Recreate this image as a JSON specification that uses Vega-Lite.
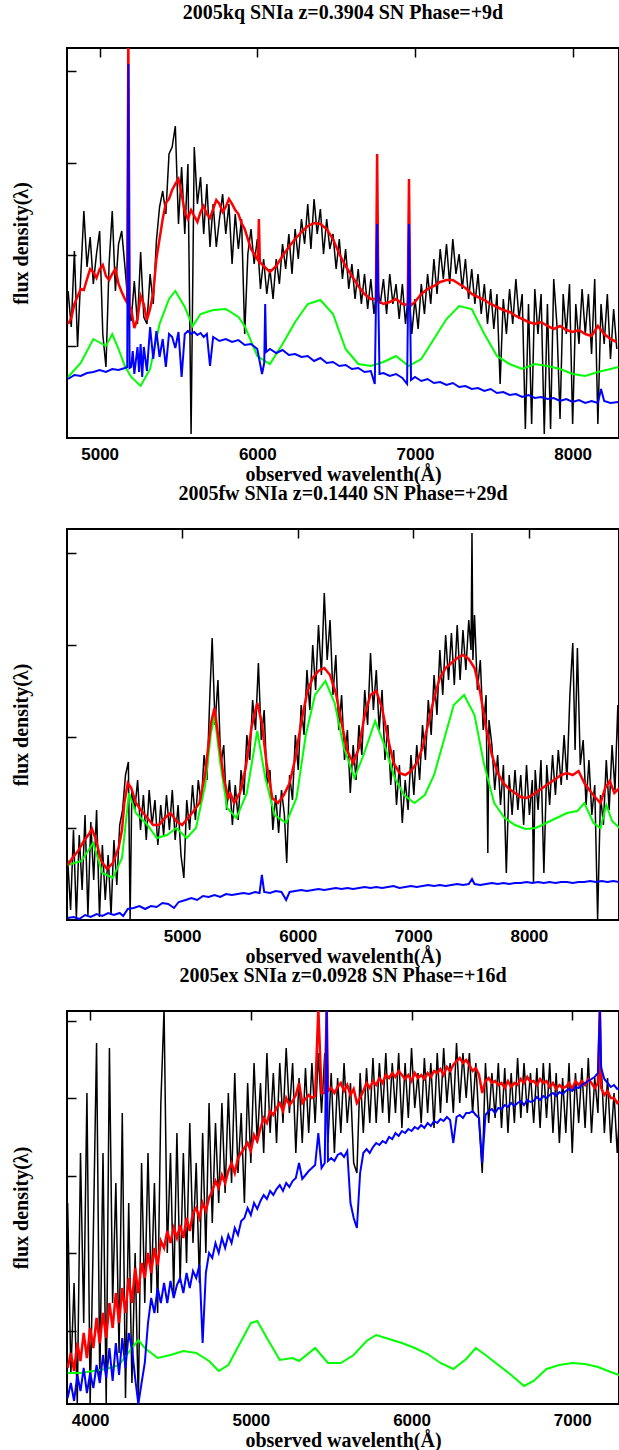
{
"$schema":"https://vega.github.io/schema/vega-lite/v6.json",
"background":"white",
"padding":{"left":10,"top":2,"right":0,"bottom":0},
"autosize":{"type":"pad"},
"spacing":91,
"bounds":"flush",
"config":{
"view":{"stroke":"black","strokeWidth":2},
"title":{"font":"Liberation Serif","fontSize":20,"fontWeight":"bold","color":"black","offset":25,"frame":"group","anchor":"middle"},
"axis":{"domain":false,"ticks":false,"tickSize":0,"grid":true,"gridColor":"black","gridOpacity":1,"gridWidth":1.5,"labels":false,"labelFont":"Liberation Sans","labelFontSize":17,"labelFontWeight":"bold","labelColor":"black","labelPadding":8,"labelFlush":false,"labelOverlap":false,"titleFont":"Liberation Serif","titleFontSize":20,"titleFontWeight":"bold","titleColor":"black"}
},
"datasets":{
"p1k":[{"w":4800,"f":14.7},{"w":4820,"f":11.1},{"w":4840,"f":18.7},{"w":4860,"f":9.1},{"w":4880,"f":16.1},{"w":4900,"f":22.7},{"w":4920,"f":17.1},{"w":4940,"f":20.1},{"w":4960,"f":15.4},{"w":4980,"f":18.4},{"w":5000,"f":20.7},{"w":5020,"f":10.4},{"w":5040,"f":7.1},{"w":5060,"f":17.4},{"w":5080,"f":22.7},{"w":5100,"f":14.7},{"w":5120,"f":19.4},{"w":5140,"f":20.7},{"w":5160,"f":17.2},{"w":5180,"f":13.4},{"w":5200,"f":11.7},{"w":5220,"f":15.7},{"w":5240,"f":11.4},{"w":5260,"f":18.6},{"w":5280,"f":12.1},{"w":5300,"f":11.4},{"w":5320,"f":16.4},{"w":5340,"f":13.4},{"w":5360,"f":19.7},{"w":5380,"f":23.1},{"w":5400,"f":24.7},{"w":5420,"f":22.4},{"w":5440,"f":28.4},{"w":5460,"f":29.1},{"w":5480,"f":31.2},{"w":5500,"f":21.4},{"w":5520,"f":27.1},{"w":5540,"f":20.4},{"w":5560,"f":27.4},{"w":5580,"f":0.4},{"w":5600,"f":29.1},{"w":5620,"f":23.4},{"w":5640,"f":26.1},{"w":5660,"f":20.4},{"w":5680,"f":25.4},{"w":5700,"f":19.1},{"w":5720,"f":23.4},{"w":5740,"f":19.1},{"w":5760,"f":21.9},{"w":5780,"f":24.4},{"w":5800,"f":20.4},{"w":5820,"f":23.4},{"w":5840,"f":17.4},{"w":5860,"f":22.4},{"w":5880,"f":18.9},{"w":5900,"f":21.9},{"w":5920,"f":10.4},{"w":5940,"f":18.4},{"w":5960,"f":20.9},{"w":5980,"f":17.4},{"w":6000,"f":19.9},{"w":6020,"f":14.9},{"w":6040,"f":17.9},{"w":6060,"f":14.4},{"w":6080,"f":16.9},{"w":6100,"f":13.9},{"w":6120,"f":17.9},{"w":6140,"f":15.4},{"w":6160,"f":19.4},{"w":6180,"f":16.9},{"w":6200,"f":20.4},{"w":6220,"f":16.4},{"w":6240,"f":20.9},{"w":6260,"f":17.9},{"w":6280,"f":21.9},{"w":6300,"f":19.4},{"w":6320,"f":23.4},{"w":6340,"f":18.9},{"w":6360,"f":23.9},{"w":6380,"f":20.4},{"w":6400,"f":22.9},{"w":6420,"f":18.4},{"w":6440,"f":21.9},{"w":6460,"f":18.9},{"w":6480,"f":20.4},{"w":6500,"f":16.9},{"w":6520,"f":19.9},{"w":6540,"f":15.9},{"w":6560,"f":18.9},{"w":6580,"f":14.9},{"w":6600,"f":17.4},{"w":6620,"f":13.9},{"w":6640,"f":16.9},{"w":6660,"f":13.4},{"w":6680,"f":16.4},{"w":6700,"f":12.9},{"w":6720,"f":15.9},{"w":6740,"f":12.4},{"w":6760,"f":15.4},{"w":6780,"f":13.4},{"w":6800,"f":15.9},{"w":6820,"f":12.4},{"w":6840,"f":16.4},{"w":6860,"f":13.4},{"w":6880,"f":15.4},{"w":6900,"f":11.9},{"w":6920,"f":15.4},{"w":6940,"f":11.4},{"w":6960,"f":14.9},{"w":6980,"f":10.4},{"w":7000,"f":13.9},{"w":7020,"f":10.9},{"w":7040,"f":15.4},{"w":7060,"f":12.4},{"w":7080,"f":16.4},{"w":7100,"f":13.4},{"w":7120,"f":17.9},{"w":7140,"f":14.4},{"w":7160,"f":18.9},{"w":7180,"f":15.9},{"w":7200,"f":19.4},{"w":7220,"f":15.4},{"w":7240,"f":19.9},{"w":7260,"f":16.4},{"w":7280,"f":18.4},{"w":7300,"f":14.9},{"w":7320,"f":17.9},{"w":7340,"f":13.9},{"w":7360,"f":16.9},{"w":7380,"f":13.4},{"w":7400,"f":16.4},{"w":7420,"f":12.4},{"w":7440,"f":15.4},{"w":7460,"f":11.4},{"w":7480,"f":14.9},{"w":7500,"f":10.9},{"w":7520,"f":14.4},{"w":7540,"f":5.4},{"w":7560,"f":13.9},{"w":7580,"f":10.4},{"w":7600,"f":14.9},{"w":7620,"f":11.4},{"w":7640,"f":15.9},{"w":7660,"f":11.9},{"w":7680,"f":14.4},{"w":7700,"f":0.9},{"w":7720,"f":13.4},{"w":7740,"f":1.4},{"w":7760,"f":14.9},{"w":7780,"f":10.4},{"w":7800,"f":14.4},{"w":7820,"f":0.4},{"w":7840,"f":13.4},{"w":7860,"f":0.9},{"w":7880,"f":15.9},{"w":7900,"f":11.4},{"w":7920,"f":1.9},{"w":7940,"f":14.4},{"w":7960,"f":10.4},{"w":7980,"f":15.4},{"w":8000,"f":1.4},{"w":8020,"f":13.4},{"w":8040,"f":9.4},{"w":8060,"f":14.9},{"w":8080,"f":10.4},{"w":8100,"f":14.4},{"w":8120,"f":8.4},{"w":8140,"f":15.9},{"w":8160,"f":1.4},{"w":8180,"f":13.4},{"w":8200,"f":9.4},{"w":8220,"f":14.4},{"w":8240,"f":7.9},{"w":8260,"f":12.9},{"w":8280,"f":8.9}],
"p1r":[{"w":4800,"f":11.4},{"w":4820,"f":12.0},{"w":4840,"f":13.4},{"w":4880,"f":14.9},{"w":4900,"f":14.8},{"w":4920,"f":15.9},{"w":4940,"f":16.9},{"w":4960,"f":16.6},{"w":4980,"f":16.0},{"w":5000,"f":16.9},{"w":5020,"f":17.3},{"w":5040,"f":16.2},{"w":5060,"f":15.8},{"w":5080,"f":16.4},{"w":5100,"f":16.9},{"w":5120,"f":15.4},{"w":5140,"f":14.6},{"w":5160,"f":13.9},{"w":5175,"f":13.5},{"w":5182,"f":40},{"w":5190,"f":13.2},{"w":5200,"f":12.9},{"w":5220,"f":11.0},{"w":5240,"f":11.9},{"w":5260,"f":14.2},{"w":5280,"f":13.4},{"w":5300,"f":11.8},{"w":5320,"f":12.9},{"w":5340,"f":14.5},{"w":5360,"f":17.9},{"w":5400,"f":21.9},{"w":5420,"f":23.5},{"w":5440,"f":23.9},{"w":5460,"f":24.8},{"w":5480,"f":25.4},{"w":5500,"f":25.9},{"w":5520,"f":24.4},{"w":5540,"f":22.6},{"w":5560,"f":21.9},{"w":5580,"f":22.8},{"w":5600,"f":22.2},{"w":5620,"f":21.6},{"w":5640,"f":22.6},{"w":5660,"f":23.2},{"w":5680,"f":22.4},{"w":5700,"f":22.0},{"w":5720,"f":22.9},{"w":5740,"f":23.8},{"w":5760,"f":23.4},{"w":5780,"f":22.6},{"w":5800,"f":23.1},{"w":5820,"f":23.9},{"w":5840,"f":23.4},{"w":5860,"f":22.8},{"w":5880,"f":22.4},{"w":5900,"f":21.5},{"w":5920,"f":20.9},{"w":5960,"f":18.9},{"w":6000,"f":17.9},{"w":6004,"f":17.8},{"w":6010,"f":21.9},{"w":6016,"f":17.6},{"w":6040,"f":17.2},{"w":6080,"f":16.6},{"w":6120,"f":17.2},{"w":6160,"f":18.2},{"w":6200,"f":19.1},{"w":6240,"f":19.9},{"w":6280,"f":20.6},{"w":6320,"f":21.2},{"w":6360,"f":21.5},{"w":6400,"f":21.4},{"w":6440,"f":20.9},{"w":6480,"f":19.9},{"w":6520,"f":18.4},{"w":6560,"f":17.2},{"w":6600,"f":16.2},{"w":6640,"f":15.2},{"w":6680,"f":14.4},{"w":6720,"f":13.9},{"w":6752,"f":13.9},{"w":6760,"f":28.4},{"w":6768,"f":13.7},{"w":6800,"f":13.4},{"w":6840,"f":13.6},{"w":6880,"f":13.9},{"w":6920,"f":13.4},{"w":6954,"f":13.3},{"w":6962,"f":25.9},{"w":6970,"f":13.2},{"w":7000,"f":13.6},{"w":7040,"f":14.4},{"w":7080,"f":14.9},{"w":7120,"f":15.2},{"w":7160,"f":15.6},{"w":7200,"f":15.8},{"w":7240,"f":15.8},{"w":7280,"f":15.4},{"w":7320,"f":15.0},{"w":7360,"f":14.4},{"w":7400,"f":14.1},{"w":7440,"f":13.8},{"w":7480,"f":13.4},{"w":7520,"f":13.1},{"w":7560,"f":12.8},{"w":7600,"f":12.6},{"w":7640,"f":12.2},{"w":7680,"f":11.9},{"w":7720,"f":11.6},{"w":7760,"f":11.4},{"w":7800,"f":11.6},{"w":7840,"f":11.2},{"w":7880,"f":10.9},{"w":7920,"f":11.2},{"w":7960,"f":10.8},{"w":8000,"f":10.6},{"w":8040,"f":10.8},{"w":8080,"f":10.4},{"w":8120,"f":10.2},{"w":8160,"f":11.2},{"w":8200,"f":10.4},{"w":8240,"f":9.9},{"w":8280,"f":9.6}],
"p1g":[{"w":4800,"f":6.1},{"w":4880,"f":7.5},{"w":4960,"f":9.9},{"w":5040,"f":9.2},{"w":5080,"f":10.4},{"w":5120,"f":8.9},{"w":5160,"f":7.2},{"w":5200,"f":6.1},{"w":5260,"f":5.2},{"w":5320,"f":6.9},{"w":5380,"f":11.4},{"w":5440,"f":13.9},{"w":5480,"f":14.7},{"w":5540,"f":13.1},{"w":5590,"f":11.2},{"w":5640,"f":12.4},{"w":5720,"f":12.8},{"w":5800,"f":12.9},{"w":5880,"f":12.1},{"w":5920,"f":11.2},{"w":6000,"f":8.2},{"w":6080,"f":7.4},{"w":6160,"f":9.4},{"w":6240,"f":11.6},{"w":6320,"f":13.4},{"w":6400,"f":13.8},{"w":6480,"f":12.4},{"w":6560,"f":8.9},{"w":6640,"f":7.4},{"w":6720,"f":7.2},{"w":6800,"f":7.6},{"w":6880,"f":8.2},{"w":6960,"f":7.2},{"w":7040,"f":7.9},{"w":7120,"f":9.9},{"w":7200,"f":11.9},{"w":7280,"f":13.2},{"w":7360,"f":12.9},{"w":7440,"f":10.4},{"w":7520,"f":8.2},{"w":7600,"f":7.4},{"w":7680,"f":6.9},{"w":7760,"f":7.4},{"w":7840,"f":7.2},{"w":7920,"f":6.9},{"w":8000,"f":6.4},{"w":8080,"f":6.2},{"w":8160,"f":6.6},{"w":8240,"f":6.9},{"w":8290,"f":7.1}],
"p1b":[{"w":4800,"f":5.9},{"w":4840,"f":6.3},{"w":4880,"f":6.2},{"w":4920,"f":6.5},{"w":4960,"f":6.6},{"w":5000,"f":6.8},{"w":5040,"f":6.6},{"w":5080,"f":6.9},{"w":5120,"f":6.8},{"w":5160,"f":7.0},{"w":5175,"f":7.1},{"w":5182,"f":37.4},{"w":5190,"f":7.0},{"w":5200,"f":7.1},{"w":5210,"f":8.7},{"w":5220,"f":6.4},{"w":5240,"f":9.1},{"w":5250,"f":6.6},{"w":5260,"f":9.4},{"w":5270,"f":6.1},{"w":5280,"f":9.1},{"w":5300,"f":6.7},{"w":5320,"f":11.1},{"w":5340,"f":7.9},{"w":5360,"f":10.7},{"w":5380,"f":8.1},{"w":5400,"f":9.9},{"w":5420,"f":7.1},{"w":5440,"f":10.4},{"w":5460,"f":10.1},{"w":5480,"f":9.0},{"w":5500,"f":10.6},{"w":5520,"f":6.1},{"w":5540,"f":10.4},{"w":5560,"f":10.7},{"w":5580,"f":10.4},{"w":5600,"f":10.6},{"w":5620,"f":10.3},{"w":5640,"f":10.5},{"w":5660,"f":10.1},{"w":5680,"f":10.4},{"w":5700,"f":7.2},{"w":5720,"f":10.1},{"w":5760,"f":9.7},{"w":5800,"f":9.9},{"w":5840,"f":9.6},{"w":5880,"f":9.8},{"w":5920,"f":9.3},{"w":5960,"f":9.4},{"w":6000,"f":8.9},{"w":6030,"f":6.4},{"w":6044,"f":7.5},{"w":6050,"f":13.4},{"w":6056,"f":8.6},{"w":6080,"f":8.9},{"w":6120,"f":8.5},{"w":6160,"f":8.8},{"w":6200,"f":8.3},{"w":6240,"f":8.4},{"w":6280,"f":8.1},{"w":6320,"f":8.2},{"w":6360,"f":7.7},{"w":6400,"f":8.0},{"w":6440,"f":7.5},{"w":6480,"f":7.6},{"w":6520,"f":7.2},{"w":6560,"f":7.3},{"w":6600,"f":6.9},{"w":6640,"f":7.0},{"w":6680,"f":6.6},{"w":6720,"f":6.7},{"w":6745,"f":5.4},{"w":6760,"f":21.4},{"w":6775,"f":6.4},{"w":6800,"f":6.5},{"w":6840,"f":6.2},{"w":6880,"f":6.4},{"w":6920,"f":6.0},{"w":6950,"f":5.4},{"w":6962,"f":21.4},{"w":6975,"f":5.8},{"w":7000,"f":6.1},{"w":7040,"f":5.7},{"w":7080,"f":5.9},{"w":7120,"f":5.5},{"w":7160,"f":5.6},{"w":7200,"f":5.3},{"w":7240,"f":5.5},{"w":7280,"f":5.1},{"w":7320,"f":5.2},{"w":7360,"f":4.9},{"w":7400,"f":5.0},{"w":7440,"f":4.7},{"w":7480,"f":4.9},{"w":7520,"f":4.5},{"w":7560,"f":4.6},{"w":7600,"f":4.3},{"w":7640,"f":4.4},{"w":7680,"f":4.1},{"w":7720,"f":4.3},{"w":7760,"f":4.0},{"w":7800,"f":4.1},{"w":7840,"f":3.9},{"w":7880,"f":4.0},{"w":7920,"f":3.7},{"w":7960,"f":3.9},{"w":8000,"f":3.6},{"w":8040,"f":3.8},{"w":8080,"f":3.5},{"w":8120,"f":3.7},{"w":8160,"f":3.5},{"w":8180,"f":4.9},{"w":8200,"f":3.7},{"w":8240,"f":3.5},{"w":8290,"f":3.6}],
"p2k":[{"w":4010,"f":6.0},{"w":4035,"f":1.0},{"w":4060,"f":9.0},{"w":4085,"f":0.2},{"w":4110,"f":8.5},{"w":4135,"f":3.0},{"w":4160,"f":10.5},{"w":4185,"f":0.5},{"w":4210,"f":9.8},{"w":4235,"f":4.0},{"w":4260,"f":11.0},{"w":4285,"f":0.3},{"w":4310,"f":7.5},{"w":4335,"f":2.0},{"w":4360,"f":6.5},{"w":4385,"f":0.5},{"w":4410,"f":8.0},{"w":4435,"f":3.5},{"w":4460,"f":9.5},{"w":4485,"f":11.0},{"w":4510,"f":14.5},{"w":4535,"f":15.8},{"w":4550,"f":0.1},{"w":4565,"f":13.0},{"w":4590,"f":11.0},{"w":4615,"f":14.0},{"w":4640,"f":9.0},{"w":4665,"f":12.5},{"w":4690,"f":8.0},{"w":4715,"f":13.0},{"w":4740,"f":9.5},{"w":4765,"f":12.0},{"w":4790,"f":7.5},{"w":4815,"f":11.5},{"w":4840,"f":8.5},{"w":4865,"f":12.5},{"w":4890,"f":9.0},{"w":4915,"f":13.0},{"w":4940,"f":8.0},{"w":4965,"f":11.5},{"w":4990,"f":6.5},{"w":5015,"f":4.2},{"w":5040,"f":12.0},{"w":5065,"f":9.0},{"w":5090,"f":13.5},{"w":5115,"f":10.0},{"w":5140,"f":14.0},{"w":5165,"f":11.5},{"w":5190,"f":16.5},{"w":5215,"f":14.0},{"w":5240,"f":22.5},{"w":5260,"f":28.2},{"w":5285,"f":19.5},{"w":5310,"f":24.0},{"w":5335,"f":15.5},{"w":5360,"f":17.5},{"w":5385,"f":11.0},{"w":5410,"f":14.0},{"w":5435,"f":9.5},{"w":5460,"f":13.5},{"w":5485,"f":10.0},{"w":5510,"f":15.0},{"w":5535,"f":12.5},{"w":5560,"f":18.5},{"w":5585,"f":16.0},{"w":5610,"f":22.0},{"w":5635,"f":19.0},{"w":5660,"f":25.7},{"w":5685,"f":18.0},{"w":5710,"f":21.0},{"w":5735,"f":13.5},{"w":5760,"f":15.0},{"w":5785,"f":9.0},{"w":5810,"f":12.5},{"w":5835,"f":8.7},{"w":5860,"f":13.0},{"w":5885,"f":10.5},{"w":5905,"f":5.7},{"w":5930,"f":14.5},{"w":5955,"f":12.0},{"w":5980,"f":18.5},{"w":6005,"f":15.0},{"w":6030,"f":21.5},{"w":6055,"f":18.5},{"w":6080,"f":25.0},{"w":6105,"f":21.0},{"w":6130,"f":27.5},{"w":6155,"f":23.0},{"w":6180,"f":29.5},{"w":6205,"f":24.5},{"w":6230,"f":32.7},{"w":6255,"f":26.0},{"w":6280,"f":30.0},{"w":6305,"f":22.5},{"w":6330,"f":26.5},{"w":6355,"f":19.0},{"w":6380,"f":22.5},{"w":6405,"f":16.0},{"w":6430,"f":19.0},{"w":6455,"f":12.7},{"w":6480,"f":17.5},{"w":6505,"f":14.0},{"w":6530,"f":19.5},{"w":6555,"f":16.5},{"w":6580,"f":23.0},{"w":6605,"f":19.5},{"w":6630,"f":26.7},{"w":6655,"f":21.0},{"w":6680,"f":25.0},{"w":6705,"f":19.0},{"w":6730,"f":23.0},{"w":6755,"f":16.0},{"w":6780,"f":19.5},{"w":6805,"f":13.5},{"w":6830,"f":17.0},{"w":6855,"f":11.5},{"w":6880,"f":15.5},{"w":6905,"f":9.7},{"w":6930,"f":14.0},{"w":6955,"f":11.0},{"w":6980,"f":16.5},{"w":7005,"f":12.5},{"w":7030,"f":17.5},{"w":7055,"f":14.0},{"w":7080,"f":19.5},{"w":7105,"f":16.0},{"w":7130,"f":22.0},{"w":7155,"f":18.5},{"w":7180,"f":24.5},{"w":7205,"f":20.5},{"w":7230,"f":27.0},{"w":7255,"f":22.5},{"w":7280,"f":28.5},{"w":7305,"f":24.0},{"w":7330,"f":28.7},{"w":7355,"f":23.5},{"w":7380,"f":29.5},{"w":7405,"f":24.0},{"w":7430,"f":29.0},{"w":7455,"f":25.0},{"w":7480,"f":30.0},{"w":7500,"f":27.0},{"w":7508,"f":38.7},{"w":7516,"f":26.0},{"w":7530,"f":30.5},{"w":7555,"f":23.0},{"w":7580,"f":26.0},{"w":7605,"f":19.0},{"w":7630,"f":22.5},{"w":7645,"f":6.7},{"w":7655,"f":20.0},{"w":7680,"f":17.5},{"w":7705,"f":13.0},{"w":7730,"f":16.5},{"w":7755,"f":11.5},{"w":7780,"f":15.5},{"w":7805,"f":4.7},{"w":7830,"f":14.5},{"w":7855,"f":10.5},{"w":7880,"f":15.0},{"w":7905,"f":11.0},{"w":7930,"f":14.5},{"w":7955,"f":9.5},{"w":7980,"f":15.5},{"w":8005,"f":10.5},{"w":8030,"f":14.0},{"w":8040,"f":3.7},{"w":8055,"f":15.0},{"w":8080,"f":11.0},{"w":8105,"f":16.0},{"w":8130,"f":4.7},{"w":8155,"f":15.5},{"w":8180,"f":11.5},{"w":8205,"f":16.5},{"w":8230,"f":12.5},{"w":8255,"f":17.0},{"w":8280,"f":13.5},{"w":8305,"f":18.5},{"w":8330,"f":14.0},{"w":8355,"f":22.5},{"w":8380,"f":27.7},{"w":8400,"f":17.0},{"w":8420,"f":27.2},{"w":8445,"f":15.5},{"w":8470,"f":18.0},{"w":8495,"f":11.5},{"w":8520,"f":16.0},{"w":8545,"f":10.5},{"w":8570,"f":13.5},{"w":8595,"f":0.1},{"w":8620,"f":12.5},{"w":8645,"f":9.5},{"w":8670,"f":16.0},{"w":8695,"f":11.0},{"w":8720,"f":17.5},{"w":8745,"f":13.0},{"w":8770,"f":21.5},{"w":8785,"f":14.0}],
"p2r":[{"w":4010,"f":5.5},{"w":4050,"f":6.2},{"w":4100,"f":6.9},{"w":4150,"f":7.9},{"w":4200,"f":8.7},{"w":4220,"f":9.1},{"w":4250,"f":8.2},{"w":4300,"f":5.9},{"w":4350,"f":5.1},{"w":4400,"f":5.7},{"w":4450,"f":7.2},{"w":4480,"f":9.0},{"w":4500,"f":11.7},{"w":4530,"f":13.7},{"w":4560,"f":13.2},{"w":4600,"f":11.7},{"w":4650,"f":10.9},{"w":4700,"f":10.2},{"w":4750,"f":9.5},{"w":4800,"f":9.5},{"w":4850,"f":10.2},{"w":4900,"f":10.7},{"w":4950,"f":9.9},{"w":5000,"f":9.5},{"w":5050,"f":10.2},{"w":5100,"f":10.9},{"w":5150,"f":11.7},{"w":5200,"f":14.7},{"w":5250,"f":19.7},{"w":5280,"f":21.2},{"w":5320,"f":17.7},{"w":5360,"f":14.2},{"w":5400,"f":12.2},{"w":5420,"f":12.6},{"w":5450,"f":11.7},{"w":5500,"f":12.7},{"w":5550,"f":15.2},{"w":5600,"f":19.2},{"w":5650,"f":21.7},{"w":5690,"f":19.7},{"w":5730,"f":15.7},{"w":5780,"f":12.2},{"w":5830,"f":11.7},{"w":5880,"f":12.5},{"w":5930,"f":13.7},{"w":5980,"f":16.2},{"w":6030,"f":19.7},{"w":6080,"f":22.7},{"w":6130,"f":24.2},{"w":6180,"f":24.9},{"w":6230,"f":25.2},{"w":6280,"f":24.5},{"w":6330,"f":22.7},{"w":6380,"f":19.7},{"w":6430,"f":16.9},{"w":6480,"f":15.7},{"w":6530,"f":17.2},{"w":6580,"f":20.5},{"w":6630,"f":22.5},{"w":6680,"f":22.9},{"w":6730,"f":21.2},{"w":6780,"f":18.2},{"w":6830,"f":15.7},{"w":6880,"f":14.7},{"w":6930,"f":14.5},{"w":6980,"f":14.9},{"w":7030,"f":15.7},{"w":7080,"f":17.2},{"w":7130,"f":19.7},{"w":7180,"f":22.2},{"w":7230,"f":24.2},{"w":7280,"f":25.2},{"w":7330,"f":25.7},{"w":7380,"f":26.2},{"w":7430,"f":26.5},{"w":7480,"f":26.1},{"w":7530,"f":25.2},{"w":7580,"f":22.7},{"w":7630,"f":19.2},{"w":7680,"f":16.5},{"w":7730,"f":14.7},{"w":7780,"f":13.7},{"w":7830,"f":13.1},{"w":7880,"f":12.7},{"w":7930,"f":12.3},{"w":7980,"f":12.2},{"w":8030,"f":12.5},{"w":8080,"f":12.9},{"w":8130,"f":13.3},{"w":8180,"f":13.7},{"w":8230,"f":14.1},{"w":8280,"f":14.5},{"w":8330,"f":14.7},{"w":8380,"f":14.5},{"w":8430,"f":14.9},{"w":8480,"f":13.7},{"w":8530,"f":12.9},{"w":8580,"f":12.2},{"w":8620,"f":11.7},{"w":8660,"f":13.2},{"w":8700,"f":13.9},{"w":8740,"f":12.7},{"w":8785,"f":13.2}],
"p2g":[{"w":4010,"f":5.5},{"w":4130,"f":5.9},{"w":4230,"f":7.7},{"w":4310,"f":4.7},{"w":4400,"f":4.2},{"w":4480,"f":6.2},{"w":4540,"f":12.7},{"w":4600,"f":10.7},{"w":4700,"f":9.5},{"w":4780,"f":8.2},{"w":4870,"f":8.5},{"w":4950,"f":9.2},{"w":5040,"f":8.2},{"w":5120,"f":9.2},{"w":5200,"f":13.5},{"w":5250,"f":18.7},{"w":5280,"f":20.5},{"w":5330,"f":15.7},{"w":5390,"f":11.2},{"w":5470,"f":10.2},{"w":5560,"f":12.7},{"w":5650,"f":18.9},{"w":5720,"f":14.2},{"w":5800,"f":10.5},{"w":5900,"f":9.7},{"w":5990,"f":12.2},{"w":6070,"f":18.5},{"w":6150,"f":22.5},{"w":6240,"f":23.9},{"w":6320,"f":21.7},{"w":6400,"f":17.2},{"w":6490,"f":14.2},{"w":6570,"f":16.5},{"w":6670,"f":19.9},{"w":6750,"f":17.5},{"w":6840,"f":14.2},{"w":6920,"f":12.5},{"w":7010,"f":11.7},{"w":7100,"f":12.5},{"w":7180,"f":14.5},{"w":7270,"f":18.2},{"w":7350,"f":21.5},{"w":7440,"f":22.5},{"w":7530,"f":20.5},{"w":7610,"f":15.7},{"w":7700,"f":11.7},{"w":7790,"f":10.2},{"w":7880,"f":9.5},{"w":7970,"f":9.1},{"w":8060,"f":9.2},{"w":8150,"f":9.7},{"w":8240,"f":10.2},{"w":8330,"f":10.7},{"w":8420,"f":10.9},{"w":8480,"f":11.7},{"w":8560,"f":9.7},{"w":8620,"f":9.2},{"w":8670,"f":11.5},{"w":8720,"f":9.9},{"w":8785,"f":9.2}],
"p2b":[{"w":4010,"f":0.2},{"w":4060,"f":0.3},{"w":4110,"f":0.1},{"w":4160,"f":0.5},{"w":4210,"f":0.3},{"w":4260,"f":0.6},{"w":4310,"f":0.4},{"w":4360,"f":0.7},{"w":4410,"f":0.5},{"w":4460,"f":0.7},{"w":4490,"f":0.4},{"w":4530,"f":1.1},{"w":4580,"f":1.2},{"w":4630,"f":1.4},{"w":4680,"f":1.1},{"w":4730,"f":1.4},{"w":4780,"f":1.3},{"w":4830,"f":1.7},{"w":4880,"f":1.6},{"w":4930,"f":1.2},{"w":4970,"f":1.8},{"w":5030,"f":2.0},{"w":5080,"f":2.2},{"w":5130,"f":2.0},{"w":5180,"f":2.4},{"w":5230,"f":2.3},{"w":5280,"f":2.5},{"w":5330,"f":2.3},{"w":5380,"f":2.6},{"w":5430,"f":2.5},{"w":5480,"f":2.6},{"w":5530,"f":2.7},{"w":5580,"f":2.6},{"w":5630,"f":2.8},{"w":5670,"f":2.7},{"w":5690,"f":4.5},{"w":5710,"f":2.8},{"w":5760,"f":2.7},{"w":5810,"f":2.9},{"w":5860,"f":2.8},{"w":5900,"f":2.0},{"w":5930,"f":2.8},{"w":5980,"f":2.9},{"w":6030,"f":3.0},{"w":6080,"f":2.9},{"w":6130,"f":3.0},{"w":6180,"f":3.1},{"w":6230,"f":3.0},{"w":6280,"f":3.1},{"w":6330,"f":3.2},{"w":6380,"f":3.1},{"w":6430,"f":3.2},{"w":6480,"f":3.1},{"w":6530,"f":3.2},{"w":6580,"f":3.3},{"w":6630,"f":3.2},{"w":6680,"f":3.3},{"w":6730,"f":3.2},{"w":6780,"f":3.3},{"w":6830,"f":3.4},{"w":6880,"f":3.2},{"w":6930,"f":3.3},{"w":6980,"f":3.4},{"w":7030,"f":3.3},{"w":7080,"f":3.4},{"w":7130,"f":3.5},{"w":7180,"f":3.4},{"w":7230,"f":3.5},{"w":7280,"f":3.4},{"w":7330,"f":3.5},{"w":7380,"f":3.6},{"w":7430,"f":3.5},{"w":7480,"f":3.6},{"w":7508,"f":4.1},{"w":7530,"f":3.6},{"w":7580,"f":3.5},{"w":7630,"f":3.6},{"w":7680,"f":3.7},{"w":7730,"f":3.6},{"w":7780,"f":3.7},{"w":7830,"f":3.6},{"w":7880,"f":3.7},{"w":7930,"f":3.7},{"w":7980,"f":3.8},{"w":8030,"f":3.7},{"w":8080,"f":3.8},{"w":8130,"f":3.7},{"w":8180,"f":3.8},{"w":8230,"f":3.7},{"w":8280,"f":3.8},{"w":8330,"f":3.8},{"w":8380,"f":3.7},{"w":8430,"f":3.8},{"w":8480,"f":3.8},{"w":8530,"f":3.9},{"w":8580,"f":3.8},{"w":8630,"f":3.9},{"w":8680,"f":3.8},{"w":8730,"f":3.9},{"w":8785,"f":3.8}],
"p3k":[{"w":3860,"f":20.1},{"w":3880,"f":3.1},{"w":3900,"f":12.1},{"w":3920,"f":0.0},{"w":3940,"f":25.1},{"w":3960,"f":8.1},{"w":3980,"f":31.1},{"w":4000,"f":0.0},{"w":4020,"f":17.1},{"w":4040,"f":36.1},{"w":4060,"f":2.1},{"w":4080,"f":25.1},{"w":4100,"f":0.0},{"w":4120,"f":35.6},{"w":4140,"f":10.1},{"w":4160,"f":22.1},{"w":4180,"f":5.1},{"w":4200,"f":29.1},{"w":4220,"f":0.6},{"w":4240,"f":20.1},{"w":4260,"f":2.1},{"w":4280,"f":15.1},{"w":4300,"f":0.0},{"w":4320,"f":24.1},{"w":4340,"f":10.1},{"w":4360,"f":25.1},{"w":4380,"f":11.1},{"w":4400,"f":22.1},{"w":4420,"f":9.1},{"w":4440,"f":30.1},{"w":4460,"f":39.5},{"w":4480,"f":15.1},{"w":4500,"f":25.1},{"w":4520,"f":11.1},{"w":4540,"f":27.1},{"w":4560,"f":12.1},{"w":4580,"f":25.1},{"w":4600,"f":14.1},{"w":4620,"f":28.1},{"w":4640,"f":16.1},{"w":4660,"f":24.1},{"w":4680,"f":12.1},{"w":4700,"f":27.1},{"w":4720,"f":15.1},{"w":4740,"f":30.1},{"w":4760,"f":18.1},{"w":4780,"f":28.1},{"w":4800,"f":20.1},{"w":4820,"f":30.1},{"w":4840,"f":21.1},{"w":4860,"f":31.1},{"w":4880,"f":22.1},{"w":4900,"f":33.1},{"w":4920,"f":23.1},{"w":4940,"f":29.1},{"w":4960,"f":20.1},{"w":4980,"f":32.1},{"w":5000,"f":24.1},{"w":5020,"f":34.1},{"w":5040,"f":26.1},{"w":5060,"f":32.1},{"w":5080,"f":25.1},{"w":5100,"f":35.1},{"w":5120,"f":27.1},{"w":5140,"f":33.1},{"w":5160,"f":26.1},{"w":5180,"f":34.1},{"w":5200,"f":28.1},{"w":5220,"f":35.6},{"w":5240,"f":29.1},{"w":5260,"f":34.1},{"w":5280,"f":25.1},{"w":5300,"f":32.6},{"w":5320,"f":26.1},{"w":5340,"f":33.6},{"w":5360,"f":27.1},{"w":5380,"f":34.1},{"w":5400,"f":28.1},{"w":5420,"f":35.1},{"w":5440,"f":29.1},{"w":5460,"f":35.1},{"w":5480,"f":26.1},{"w":5500,"f":33.1},{"w":5520,"f":25.1},{"w":5540,"f":32.6},{"w":5560,"f":27.1},{"w":5580,"f":34.1},{"w":5600,"f":28.1},{"w":5620,"f":32.1},{"w":5640,"f":24.1},{"w":5660,"f":23.1},{"w":5680,"f":33.1},{"w":5700,"f":27.1},{"w":5720,"f":33.6},{"w":5740,"f":28.1},{"w":5760,"f":34.6},{"w":5780,"f":28.1},{"w":5800,"f":34.1},{"w":5820,"f":29.1},{"w":5840,"f":35.1},{"w":5860,"f":28.1},{"w":5880,"f":34.1},{"w":5900,"f":29.1},{"w":5920,"f":35.1},{"w":5940,"f":27.6},{"w":5960,"f":34.1},{"w":5980,"f":28.6},{"w":6000,"f":35.6},{"w":6020,"f":29.6},{"w":6040,"f":33.1},{"w":6060,"f":28.1},{"w":6080,"f":34.6},{"w":6100,"f":29.1},{"w":6120,"f":34.1},{"w":6140,"f":27.6},{"w":6160,"f":35.1},{"w":6180,"f":29.1},{"w":6200,"f":35.6},{"w":6220,"f":30.1},{"w":6240,"f":34.1},{"w":6260,"f":29.1},{"w":6280,"f":36.1},{"w":6300,"f":30.1},{"w":6320,"f":35.1},{"w":6340,"f":30.6},{"w":6360,"f":35.1},{"w":6380,"f":29.1},{"w":6400,"f":34.1},{"w":6420,"f":28.1},{"w":6440,"f":23.1},{"w":6460,"f":34.1},{"w":6480,"f":28.1},{"w":6500,"f":33.1},{"w":6520,"f":28.6},{"w":6540,"f":34.1},{"w":6560,"f":27.6},{"w":6580,"f":33.6},{"w":6600,"f":27.1},{"w":6620,"f":33.1},{"w":6640,"f":28.1},{"w":6660,"f":34.6},{"w":6680,"f":28.6},{"w":6700,"f":34.1},{"w":6720,"f":29.1},{"w":6740,"f":33.1},{"w":6760,"f":28.1},{"w":6780,"f":33.6},{"w":6800,"f":27.6},{"w":6820,"f":34.1},{"w":6840,"f":28.6},{"w":6860,"f":34.1},{"w":6880,"f":27.1},{"w":6900,"f":33.1},{"w":6920,"f":26.1},{"w":6940,"f":32.6},{"w":6960,"f":27.1},{"w":6980,"f":34.1},{"w":7000,"f":25.1},{"w":7020,"f":33.1},{"w":7040,"f":28.1},{"w":7060,"f":33.6},{"w":7080,"f":27.6},{"w":7100,"f":34.6},{"w":7120,"f":27.1},{"w":7140,"f":32.6},{"w":7160,"f":29.1},{"w":7172,"f":36.1},{"w":7180,"f":34.1},{"w":7200,"f":27.1},{"w":7220,"f":32.6},{"w":7240,"f":26.1},{"w":7260,"f":31.1},{"w":7280,"f":25.1},{"w":7291,"f":28.1}],
"p3r":[{"w":3860,"f":3.6},{"w":3880,"f":5.1},{"w":3900,"f":3.3},{"w":3920,"f":6.1},{"w":3940,"f":4.3},{"w":3960,"f":7.1},{"w":3980,"f":4.6},{"w":4000,"f":7.6},{"w":4020,"f":5.6},{"w":4040,"f":8.6},{"w":4060,"f":6.1},{"w":4080,"f":9.1},{"w":4100,"f":6.6},{"w":4120,"f":10.1},{"w":4140,"f":7.6},{"w":4160,"f":11.1},{"w":4180,"f":8.1},{"w":4200,"f":11.6},{"w":4220,"f":9.1},{"w":4240,"f":12.6},{"w":4260,"f":10.1},{"w":4280,"f":13.6},{"w":4300,"f":11.1},{"w":4320,"f":14.1},{"w":4340,"f":12.6},{"w":4360,"f":15.1},{"w":4380,"f":13.1},{"w":4400,"f":15.6},{"w":4420,"f":13.9},{"w":4440,"f":16.3},{"w":4460,"f":15.6},{"w":4480,"f":17.3},{"w":4500,"f":16.1},{"w":4520,"f":17.6},{"w":4540,"f":16.6},{"w":4560,"f":17.9},{"w":4580,"f":16.6},{"w":4600,"f":18.6},{"w":4620,"f":17.3},{"w":4640,"f":19.1},{"w":4660,"f":19.6},{"w":4680,"f":18.6},{"w":4700,"f":20.1},{"w":4720,"f":19.3},{"w":4740,"f":20.6},{"w":4760,"f":21.3},{"w":4780,"f":22.3},{"w":4800,"f":21.6},{"w":4820,"f":22.9},{"w":4840,"f":22.1},{"w":4860,"f":23.3},{"w":4880,"f":24.1},{"w":4900,"f":23.1},{"w":4920,"f":24.6},{"w":4940,"f":25.1},{"w":4960,"f":25.6},{"w":4980,"f":26.1},{"w":5000,"f":25.3},{"w":5020,"f":26.9},{"w":5040,"f":26.3},{"w":5060,"f":27.6},{"w":5080,"f":28.6},{"w":5100,"f":28.1},{"w":5120,"f":29.3},{"w":5140,"f":28.9},{"w":5160,"f":29.6},{"w":5180,"f":30.1},{"w":5200,"f":29.3},{"w":5220,"f":30.6},{"w":5240,"f":29.9},{"w":5260,"f":30.3},{"w":5280,"f":30.9},{"w":5300,"f":32.1},{"w":5320,"f":30.1},{"w":5340,"f":30.5},{"w":5360,"f":30.9},{"w":5380,"f":30.6},{"w":5400,"f":30.8},{"w":5420,"f":39.5},{"w":5440,"f":31.1},{"w":5460,"f":31.1},{"w":5472,"f":39.5},{"w":5480,"f":31.3},{"w":5500,"f":31.6},{"w":5520,"f":31.1},{"w":5540,"f":31.7},{"w":5560,"f":32.1},{"w":5580,"f":31.3},{"w":5600,"f":31.9},{"w":5620,"f":30.9},{"w":5640,"f":31.5},{"w":5660,"f":30.1},{"w":5680,"f":30.6},{"w":5700,"f":31.3},{"w":5720,"f":32.1},{"w":5740,"f":31.6},{"w":5760,"f":32.3},{"w":5780,"f":31.9},{"w":5800,"f":32.6},{"w":5820,"f":32.1},{"w":5840,"f":32.9},{"w":5860,"f":32.6},{"w":5880,"f":33.1},{"w":5900,"f":32.7},{"w":5920,"f":33.3},{"w":5940,"f":32.9},{"w":5960,"f":32.5},{"w":5980,"f":32.9},{"w":6000,"f":32.3},{"w":6020,"f":33.1},{"w":6040,"f":32.6},{"w":6060,"f":32.9},{"w":6080,"f":32.5},{"w":6100,"f":33.1},{"w":6120,"f":32.7},{"w":6140,"f":33.3},{"w":6160,"f":33.1},{"w":6180,"f":33.5},{"w":6200,"f":32.9},{"w":6220,"f":33.7},{"w":6240,"f":33.3},{"w":6260,"f":33.9},{"w":6280,"f":34.3},{"w":6300,"f":34.6},{"w":6320,"f":34.1},{"w":6340,"f":34.4},{"w":6360,"f":33.9},{"w":6380,"f":33.3},{"w":6400,"f":33.6},{"w":6420,"f":32.9},{"w":6440,"f":31.1},{"w":6460,"f":32.3},{"w":6480,"f":32.6},{"w":6500,"f":32.1},{"w":6520,"f":32.3},{"w":6540,"f":31.9},{"w":6560,"f":32.1},{"w":6580,"f":31.6},{"w":6600,"f":32.3},{"w":6620,"f":31.7},{"w":6640,"f":32.1},{"w":6660,"f":31.9},{"w":6680,"f":32.5},{"w":6700,"f":32.1},{"w":6720,"f":32.7},{"w":6740,"f":32.2},{"w":6760,"f":32.3},{"w":6780,"f":31.9},{"w":6800,"f":32.5},{"w":6820,"f":32.1},{"w":6840,"f":32.3},{"w":6860,"f":31.7},{"w":6880,"f":32.1},{"w":6900,"f":31.5},{"w":6920,"f":31.9},{"w":6940,"f":31.6},{"w":6960,"f":31.7},{"w":6980,"f":32.1},{"w":7000,"f":31.5},{"w":7020,"f":32.3},{"w":7040,"f":31.9},{"w":7060,"f":32.3},{"w":7080,"f":31.9},{"w":7100,"f":32.5},{"w":7120,"f":32.1},{"w":7140,"f":31.6},{"w":7160,"f":32.1},{"w":7172,"f":39.5},{"w":7180,"f":31.6},{"w":7200,"f":30.9},{"w":7220,"f":31.3},{"w":7240,"f":30.6},{"w":7260,"f":30.6},{"w":7280,"f":30.1},{"w":7291,"f":30.3}],
"p3g":[{"w":3860,"f":3.1},{"w":3940,"f":3.1},{"w":4020,"f":3.3},{"w":4100,"f":3.5},{"w":4180,"f":3.9},{"w":4260,"f":5.6},{"w":4300,"f":6.4},{"w":4340,"f":5.6},{"w":4420,"f":4.6},{"w":4500,"f":4.9},{"w":4580,"f":5.3},{"w":4660,"f":5.1},{"w":4740,"f":4.3},{"w":4800,"f":3.3},{"w":4860,"f":3.9},{"w":4940,"f":6.3},{"w":5000,"f":8.1},{"w":5040,"f":8.3},{"w":5100,"f":6.6},{"w":5180,"f":4.4},{"w":5260,"f":4.6},{"w":5300,"f":4.3},{"w":5400,"f":5.6},{"w":5480,"f":4.1},{"w":5560,"f":4.1},{"w":5640,"f":4.9},{"w":5720,"f":6.3},{"w":5780,"f":6.9},{"w":5860,"f":6.5},{"w":5940,"f":6.1},{"w":6020,"f":5.6},{"w":6100,"f":5.0},{"w":6180,"f":4.1},{"w":6260,"f":3.5},{"w":6340,"f":4.5},{"w":6400,"f":5.6},{"w":6460,"f":4.9},{"w":6540,"f":3.9},{"w":6620,"f":2.9},{"w":6700,"f":1.8},{"w":6760,"f":2.3},{"w":6840,"f":3.5},{"w":6920,"f":3.9},{"w":7000,"f":4.1},{"w":7080,"f":4.0},{"w":7160,"f":3.7},{"w":7240,"f":3.2},{"w":7291,"f":2.9}],
"p3b":[{"w":3860,"f":0.6},{"w":3880,"f":2.1},{"w":3900,"f":0.3},{"w":3920,"f":2.9},{"w":3940,"f":1.3},{"w":3960,"f":3.6},{"w":3980,"f":1.1},{"w":4000,"f":3.1},{"w":4020,"f":1.6},{"w":4040,"f":3.9},{"w":4060,"f":2.1},{"w":4080,"f":4.9},{"w":4100,"f":2.6},{"w":4120,"f":5.6},{"w":4140,"f":2.3},{"w":4160,"f":6.1},{"w":4180,"f":2.9},{"w":4200,"f":6.6},{"w":4220,"f":3.6},{"w":4240,"f":7.1},{"w":4260,"f":5.6},{"w":4280,"f":2.6},{"w":4300,"f":0.0},{"w":4320,"f":2.1},{"w":4340,"f":4.1},{"w":4360,"f":8.1},{"w":4380,"f":10.6},{"w":4400,"f":9.1},{"w":4420,"f":11.6},{"w":4440,"f":10.1},{"w":4460,"f":12.1},{"w":4480,"f":10.1},{"w":4500,"f":12.3},{"w":4520,"f":10.6},{"w":4540,"f":11.9},{"w":4560,"f":12.6},{"w":4580,"f":11.1},{"w":4600,"f":13.1},{"w":4620,"f":11.6},{"w":4640,"f":13.3},{"w":4660,"f":12.6},{"w":4680,"f":13.9},{"w":4700,"f":6.1},{"w":4720,"f":13.1},{"w":4740,"f":15.1},{"w":4760,"f":14.6},{"w":4780,"f":16.1},{"w":4800,"f":15.1},{"w":4820,"f":16.6},{"w":4840,"f":15.6},{"w":4860,"f":16.9},{"w":4880,"f":16.1},{"w":4900,"f":17.6},{"w":4920,"f":16.9},{"w":4940,"f":18.3},{"w":4960,"f":18.6},{"w":4980,"f":19.6},{"w":5000,"f":18.9},{"w":5020,"f":20.1},{"w":5040,"f":19.5},{"w":5060,"f":20.3},{"w":5080,"f":20.9},{"w":5100,"f":20.5},{"w":5120,"f":21.3},{"w":5140,"f":20.9},{"w":5160,"f":21.5},{"w":5180,"f":21.9},{"w":5200,"f":21.3},{"w":5220,"f":22.1},{"w":5240,"f":21.7},{"w":5260,"f":22.3},{"w":5280,"f":22.6},{"w":5300,"f":24.1},{"w":5320,"f":22.5},{"w":5340,"f":22.9},{"w":5360,"f":23.3},{"w":5380,"f":23.6},{"w":5400,"f":23.9},{"w":5420,"f":27.1},{"w":5440,"f":23.6},{"w":5460,"f":24.1},{"w":5472,"f":39.5},{"w":5480,"f":24.3},{"w":5500,"f":24.6},{"w":5520,"f":24.3},{"w":5540,"f":24.9},{"w":5560,"f":25.1},{"w":5580,"f":24.7},{"w":5600,"f":25.3},{"w":5620,"f":20.1},{"w":5640,"f":18.6},{"w":5660,"f":17.6},{"w":5680,"f":23.1},{"w":5700,"f":25.1},{"w":5720,"f":25.5},{"w":5740,"f":25.1},{"w":5760,"f":25.7},{"w":5780,"f":26.1},{"w":5800,"f":25.9},{"w":5820,"f":26.3},{"w":5840,"f":26.1},{"w":5860,"f":26.7},{"w":5880,"f":26.5},{"w":5900,"f":27.1},{"w":5920,"f":26.8},{"w":5940,"f":27.3},{"w":5960,"f":27.1},{"w":5980,"f":27.5},{"w":6000,"f":27.3},{"w":6020,"f":27.7},{"w":6040,"f":27.5},{"w":6060,"f":27.9},{"w":6080,"f":27.6},{"w":6100,"f":28.1},{"w":6120,"f":27.8},{"w":6140,"f":28.3},{"w":6160,"f":28.1},{"w":6180,"f":28.5},{"w":6200,"f":28.3},{"w":6220,"f":28.7},{"w":6240,"f":28.4},{"w":6260,"f":26.1},{"w":6280,"f":28.7},{"w":6300,"f":28.9},{"w":6320,"f":28.6},{"w":6340,"f":29.1},{"w":6360,"f":29.1},{"w":6380,"f":29.3},{"w":6400,"f":28.9},{"w":6420,"f":28.6},{"w":6440,"f":24.1},{"w":6460,"f":28.9},{"w":6480,"f":29.3},{"w":6500,"f":29.5},{"w":6520,"f":29.1},{"w":6540,"f":29.6},{"w":6560,"f":29.5},{"w":6580,"f":29.9},{"w":6600,"f":29.7},{"w":6620,"f":30.1},{"w":6640,"f":29.8},{"w":6660,"f":30.1},{"w":6680,"f":30.3},{"w":6700,"f":29.9},{"w":6720,"f":30.4},{"w":6740,"f":30.2},{"w":6760,"f":30.3},{"w":6780,"f":30.7},{"w":6800,"f":30.4},{"w":6820,"f":30.8},{"w":6840,"f":30.6},{"w":6860,"f":30.9},{"w":6880,"f":31.1},{"w":6900,"f":30.8},{"w":6920,"f":31.2},{"w":6940,"f":31.0},{"w":6960,"f":31.3},{"w":6980,"f":31.5},{"w":7000,"f":31.3},{"w":7020,"f":31.7},{"w":7040,"f":31.6},{"w":7060,"f":31.9},{"w":7080,"f":32.1},{"w":7100,"f":32.3},{"w":7120,"f":32.5},{"w":7140,"f":32.7},{"w":7160,"f":33.1},{"w":7172,"f":39.5},{"w":7180,"f":33.6},{"w":7200,"f":32.5},{"w":7220,"f":32.1},{"w":7240,"f":31.7},{"w":7260,"f":31.9},{"w":7280,"f":31.5},{"w":7291,"f":31.6}]
},
"vconcat":[
{"width":552,"height":390,"title":{"text":"2005kq SNIa z=0.3904 SN Phase=+9d"},
"layer":[
{"data":{"name":"p1k"},"mark":{"type":"line","color":"black","strokeWidth":1.5,"clip":true},
"encoding":{"x":{"field":"w","type":"quantitative","scale":{"domain":[4793,8294],"nice":false,"zero":false},"axis":{"orient":"bottom","values":[5000,6000,7000,8000],"labels":true,"format":"d","gridDash":[9,2000],"title":"observed wavelenth(Å)","titlePadding":2}},
"y":{"field":"f","type":"quantitative","scale":{"domain":[0,39],"nice":false,"zero":false},"axis":{"orient":"left","values":[9.167,18.333,27.5,36.667],"gridDash":[9,2000],"title":"flux density(λ)","titlePadding":40,"titleBaseline":"alphabetic"}}}},
{"data":{"name":"p1g"},"mark":{"type":"line","color":"#00ff00","strokeWidth":2,"clip":true},
"encoding":{"x":{"field":"w","type":"quantitative","axis":{"orient":"top","values":[5000,6000,7000,8000],"gridDash":[9,2000],"title":null}},
"y":{"field":"f","type":"quantitative","axis":{"orient":"right","values":[9.167,18.333,27.5,36.667],"gridDash":[9,2000],"title":null}}}},
{"data":{"name":"p1r"},"mark":{"type":"line","color":"#ff0000","strokeWidth":2.5,"clip":true},
"encoding":{"x":{"field":"w","type":"quantitative","axis":{"orient":"bottom","values":[4800,5000,5200,5400,5600,5800,6000,6200,6400,6600,6800,7000,7200,7400,7600,7800,8000,8200],"gridDash":[5,2000],"title":null}},
"y":{"field":"f","type":"quantitative","axis":{"orient":"left","values":[1.833,3.667,5.5,7.333,9.167,11,12.833,14.667,16.5,18.333,20.167,22,23.833,25.667,27.5,29.333,31.167,33,34.833,36.667,38.5],"gridDash":[5,2000],"title":null}}}},
{"data":{"name":"p1b"},"mark":{"type":"line","color":"#0000ff","strokeWidth":2,"clip":true},
"encoding":{"x":{"field":"w","type":"quantitative","axis":{"orient":"top","values":[4800,5000,5200,5400,5600,5800,6000,6200,6400,6600,6800,7000,7200,7400,7600,7800,8000,8200],"gridDash":[5,2000],"title":null}},
"y":{"field":"f","type":"quantitative","axis":{"orient":"right","values":[1.833,3.667,5.5,7.333,9.167,11,12.833,14.667,16.5,18.333,20.167,22,23.833,25.667,27.5,29.333,31.167,33,34.833,36.667,38.5],"gridDash":[5,2000],"title":null}}}}
],
"resolve":{"axis":{"x":"independent","y":"independent"}}},
{"width":552,"height":391,"title":{"text":"2005fw SNIa z=0.1440 SN Phase=+29d"},
"layer":[
{"data":{"name":"p2k"},"mark":{"type":"line","color":"black","strokeWidth":1.5,"clip":true},
"encoding":{"x":{"field":"w","type":"quantitative","scale":{"domain":[4004,8780],"nice":false,"zero":false},"axis":{"orient":"bottom","values":[5000,6000,7000,8000],"labels":true,"format":"d","gridDash":[9,2000],"title":"observed wavelenth(Å)","titlePadding":2}},
"y":{"field":"f","type":"quantitative","scale":{"domain":[0,39.1],"nice":false,"zero":false},"axis":{"orient":"left","values":[9.167,18.333,27.5,36.667],"gridDash":[9,2000],"title":"flux density(λ)","titlePadding":40,"titleBaseline":"alphabetic"}}}},
{"data":{"name":"p2g"},"mark":{"type":"line","color":"#00ff00","strokeWidth":2,"clip":true},
"encoding":{"x":{"field":"w","type":"quantitative","axis":{"orient":"top","values":[5000,6000,7000,8000],"gridDash":[9,2000],"title":null}},
"y":{"field":"f","type":"quantitative","axis":{"orient":"right","values":[9.167,18.333,27.5,36.667],"gridDash":[9,2000],"title":null}}}},
{"data":{"name":"p2r"},"mark":{"type":"line","color":"#ff0000","strokeWidth":2.5,"clip":true},
"encoding":{"x":{"field":"w","type":"quantitative","axis":{"orient":"bottom","values":[4200,4400,4600,4800,5000,5200,5400,5600,5800,6000,6200,6400,6600,6800,7000,7200,7400,7600,7800,8000,8200,8400,8600],"gridDash":[5,2000],"title":null}},
"y":{"field":"f","type":"quantitative","axis":{"orient":"left","values":[1.833,3.667,5.5,7.333,9.167,11,12.833,14.667,16.5,18.333,20.167,22,23.833,25.667,27.5,29.333,31.167,33,34.833,36.667,38.5],"gridDash":[5,2000],"title":null}}}},
{"data":{"name":"p2b"},"mark":{"type":"line","color":"#0000ff","strokeWidth":2,"clip":true},
"encoding":{"x":{"field":"w","type":"quantitative","axis":{"orient":"top","values":[4200,4400,4600,4800,5000,5200,5400,5600,5800,6000,6200,6400,6600,6800,7000,7200,7400,7600,7800,8000,8200,8400,8600],"gridDash":[5,2000],"title":null}},
"y":{"field":"f","type":"quantitative","axis":{"orient":"right","values":[1.833,3.667,5.5,7.333,9.167,11,12.833,14.667,16.5,18.333,20.167,22,23.833,25.667,27.5,29.333,31.167,33,34.833,36.667,38.5],"gridDash":[5,2000],"title":null}}}}
],
"resolve":{"axis":{"x":"independent","y":"independent"}}},
{"width":552,"height":393,"title":{"text":"2005ex SNIa z=0.0928 SN Phase=+16d"},
"layer":[
{"data":{"name":"p3k"},"mark":{"type":"line","color":"black","strokeWidth":1.5,"clip":true},
"encoding":{"x":{"field":"w","type":"quantitative","scale":{"domain":[3856,7291],"nice":false,"zero":false},"axis":{"orient":"bottom","values":[4000,5000,6000,7000],"labels":true,"format":"d","gridDash":[9,2000],"title":"observed wavelenth(Å)","titlePadding":2}},
"y":{"field":"f","type":"quantitative","scale":{"domain":[0,39.3],"nice":false,"zero":false},"axis":{"orient":"left","values":[7.3,15.05,22.8,30.55,38.3],"gridDash":[9,2000],"title":"flux density(λ)","titlePadding":40,"titleBaseline":"alphabetic"}}}},
{"data":{"name":"p3g"},"mark":{"type":"line","color":"#00ff00","strokeWidth":2,"clip":true},
"encoding":{"x":{"field":"w","type":"quantitative","axis":{"orient":"top","values":[4000,5000,6000,7000],"gridDash":[9,2000],"title":null}},
"y":{"field":"f","type":"quantitative","axis":{"orient":"right","values":[7.3,15.05,22.8,30.55,38.3],"gridDash":[9,2000],"title":null}}}},
{"data":{"name":"p3r"},"mark":{"type":"line","color":"#ff0000","strokeWidth":2.5,"clip":true},
"encoding":{"x":{"field":"w","type":"quantitative","axis":{"orient":"bottom","values":[4000,4200,4400,4600,4800,5000,5200,5400,5600,5800,6000,6200,6400,6600,6800,7000,7200],"gridDash":[5,2000],"title":null}},
"y":{"field":"f","type":"quantitative","axis":{"orient":"left","values":[1.1,2.65,4.2,5.75,7.3,8.85,10.4,11.95,13.5,15.05,16.6,18.15,19.7,21.25,22.8,24.35,25.9,27.45,29,30.55,32.1,33.65,35.2,36.75,38.3],"gridDash":[5,2000],"title":null}}}},
{"data":{"name":"p3b"},"mark":{"type":"line","color":"#0000ff","strokeWidth":2,"clip":true},
"encoding":{"x":{"field":"w","type":"quantitative","axis":{"orient":"top","values":[4000,4200,4400,4600,4800,5000,5200,5400,5600,5800,6000,6200,6400,6600,6800,7000,7200],"gridDash":[5,2000],"title":null}},
"y":{"field":"f","type":"quantitative","axis":{"orient":"right","values":[1.1,2.65,4.2,5.75,7.3,8.85,10.4,11.95,13.5,15.05,16.6,18.15,19.7,21.25,22.8,24.35,25.9,27.45,29,30.55,32.1,33.65,35.2,36.75,38.3],"gridDash":[5,2000],"title":null}}}}
],
"resolve":{"axis":{"x":"independent","y":"independent"}}}
]
}
